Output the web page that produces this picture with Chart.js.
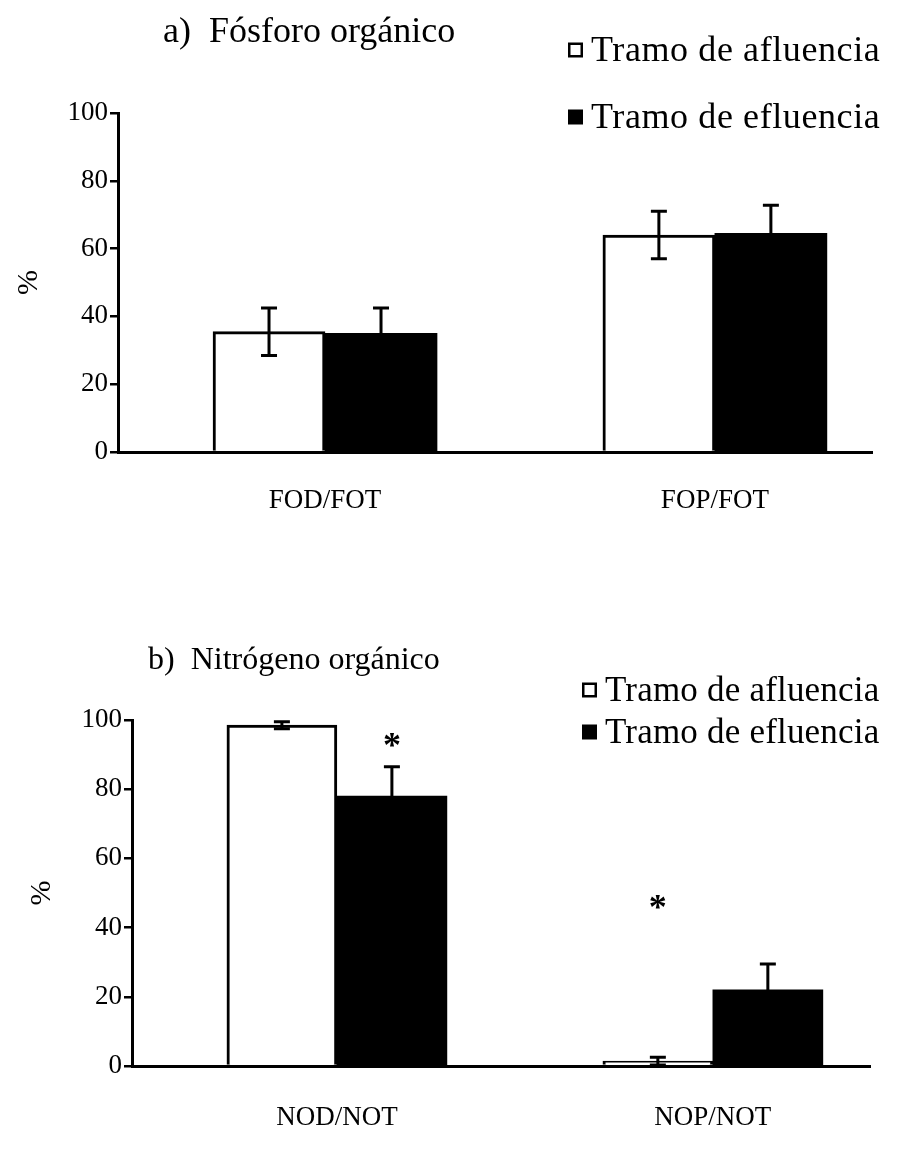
<!DOCTYPE html>
<html>
<head>
<meta charset="utf-8">
<script src="https://cdn.jsdelivr.net/npm/chart.js@4/dist/chart.umd.min.js"></script>
<style>
  html, body { margin: 0; padding: 0; background: #fff; }
  #wrap { position: relative; width: 901px; height: 1169px; overflow: hidden; }
  .box { position: absolute; left: 0; width: 901px; }
</style>
</head>
<body>
<div id="wrap">
  <div class="box" style="top:0;height:575px"><canvas id="chartA" width="901" height="575"></canvas></div>
  <div class="box" style="top:575px;height:594px"><canvas id="chartB" width="901" height="594"></canvas></div>
</div>
<script>
// ---- data ----
const seriesNames = ['Tramo de afluencia', 'Tramo de efluencia'];
const yTicks = [0, 20, 40, 60, 80, 100];
const yAxisTitle = '%';

const titleA = 'a)  Fósforo orgánico';
const categoriesA = ['FOD/FOT', 'FOP/FOT'];
const afluenciaA = [35.5, 64];
const afluenciaErrA = [7, 7];
const efluenciaA = [35, 64.5];
const efluenciaErrA = [7.5, 8.3];

const titleB = 'b)  Nitrógeno orgánico';
const categoriesB = ['NOD/NOT', 'NOP/NOT'];
const afluenciaB = [98.5, 1.4];
const afluenciaErrB = [1, 1.1];
const efluenciaB = [78, 22];
const efluenciaErrB = [8.5, 7.5];
// significance asterisks: category index, series index, value (y position in %)
const sigCategoryB = [0, 1];
const sigSeriesB = [1, 0];
const sigValueB = [94, 47];

const FONT = "'Liberation Serif', 'Times New Roman', serif";
Chart.defaults.font.family = FONT;
Chart.defaults.color = '#000';

const errorBars = {
  id: 'errorBars',
  afterDatasetsDraw(chart) {
    const ctx = chart.ctx, ys = chart.scales.y;
    chart.data.datasets.forEach((ds, i) => {
      const meta = chart.getDatasetMeta(i);
      meta.data.forEach((bar, j) => {
        const v = ds.data[j].y, e = ds.errors[j];
        const x = bar.x, top = ys.getPixelForValue(v + e), bot = ys.getPixelForValue(v - e);
        const cap = 8;
        ctx.save();
        ctx.strokeStyle = '#000';
        ctx.lineWidth = 3;
        ctx.beginPath();
        ctx.moveTo(x, top); ctx.lineTo(x, bot);
        ctx.moveTo(x - cap, top); ctx.lineTo(x + cap, top);
        ctx.moveTo(x - cap, bot); ctx.lineTo(x + cap, bot);
        ctx.stroke();
        ctx.restore();
      });
    });
  }
};

const decor = {
  id: 'decor',
  afterDraw(chart, args, o) {
    const ctx = chart.ctx;
    ctx.save();
    ctx.fillStyle = '#000';
    ctx.textBaseline = 'alphabetic';
    ctx.textAlign = 'left';
    ctx.font = o.titleSize + 'px ' + FONT;
    ctx.fillText(o.title, o.titleX, o.titleY);
    ctx.font = o.legendSize + 'px ' + FONT;
    if ('letterSpacing' in ctx) ctx.letterSpacing = o.legendSpacing + 'px';
    chart.data.datasets.forEach((ds, i) => {
      const y = o.legendY[i];
      const bx = o.legendX, bs = 15;
      if (ds.backgroundColor === '#000') {
        ctx.fillStyle = '#000';
        ctx.fillRect(bx, y - bs / 2, bs, bs);
      } else {
        ctx.strokeStyle = '#000';
        ctx.lineWidth = 2.5;
        ctx.strokeRect(bx + 1.25, y - bs / 2 + 1.25, bs - 2.5, bs - 2.5);
      }
      ctx.fillStyle = '#000';
      ctx.fillText(ds.label, bx + 23, y + 11);
    });
    if ('letterSpacing' in ctx) ctx.letterSpacing = '0px';
    if (o.sig) {
      ctx.font = 'bold 36px ' + FONT;
      ctx.textAlign = 'center';
      o.sig.cat.forEach((c, k) => {
        const bar = chart.getDatasetMeta(o.sig.ser[k]).data[c];
        const y = chart.scales.y.getPixelForValue(o.sig.val[k]);
        ctx.fillText('*', bar.x, y + 16);
      });
    }
    ctx.restore();
  }
};

function makeChart(id, cats, a, ae, e, ee, cfg) {
  return new Chart(document.getElementById(id), {
    type: 'bar',
    data: {
      datasets: [
        { label: seriesNames[0], data: a.map((v, i) => ({ x: i, y: v })), errors: ae,
          backgroundColor: '#fff', borderColor: '#000', borderWidth: 3, borderSkipped: 'bottom',
          barThickness: cfg.barW },
        { label: seriesNames[1], data: e.map((v, i) => ({ x: i, y: v })), errors: ee,
          backgroundColor: '#000', borderColor: '#000', borderWidth: 0,
          barThickness: cfg.barW }
      ]
    },
    options: {
      responsive: false,
      animation: false,
      layout: { padding: { top: cfg.padTop, bottom: cfg.padBottom, left: 0, right: cfg.padRight } },
      plugins: {
        legend: { display: false },
        tooltip: { enabled: false },
        decor: cfg.decor
      },
      scales: {
        x: {
          type: 'linear',
          offset: false,
          min: cfg.xMin, max: cfg.xMax,
          grid: { display: false, drawTicks: false },
          border: { display: true, color: '#000', width: 3 },
          afterBuildTicks: s => { s.ticks = cats.map((c, i) => ({ value: i })); },
          afterFit: s => { s.height = cfg.xH; },
          ticks: { callback: v => cats[v], font: { size: 27 }, padding: cfg.xPad, autoSkip: false, maxRotation: 0, color: '#000' }
        },
        y: {
          min: 0, max: 100,
          afterBuildTicks: s => { s.ticks = yTicks.map(v => ({ value: v })); },
          afterFit: s => { s.width = cfg.yW; },
          grid: { drawOnChartArea: false, drawTicks: true, tickLength: 8, color: '#000', lineWidth: 2.5 },
          border: { display: true, color: '#000', width: 3 },
          ticks: { font: { size: 27 }, padding: 2, color: '#000' },
          title: { display: true, text: yAxisTitle, font: { size: 30 }, padding: { top: cfg.titlePad, bottom: 0 }, color: '#000' }
        }
      }
    },
    plugins: [errorBars, decor]
  });
}

makeChart('chartA', categoriesA, afluenciaA, afluenciaErrA, efluenciaA, efluenciaErrA, {
  barW: 112, padTop: 113, padBottom: 63, padRight: 29, xMin: -0.531, xMax: 1.403, xH: 60, xPad: 33,
  yW: 118, titlePad: 11,
  decor: { title: titleA, titleX: 163, titleY: 42, titleSize: 36, legendX: 568, legendY: [50, 117], legendSize: 36, legendSpacing: 0.6 }
});

makeChart('chartB', categoriesB, afluenciaB, afluenciaErrB, efluenciaB, efluenciaErrB, {
  barW: 110, padTop: 145, padBottom: 43, padRight: 31, xMin: -0.545, xMax: 1.418, xH: 60, xPad: 36,
  yW: 132, titlePad: 24,
  decor: { title: titleB, titleX: 148, titleY: 657 - 575 + 12, titleSize: 32, legendX: 582, legendY: [690 - 575, 732 - 575], legendSize: 35, legendSpacing: 0.2,
    sig: { cat: sigCategoryB, ser: sigSeriesB, val: sigValueB } }
});
</script>
</body>
</html>
